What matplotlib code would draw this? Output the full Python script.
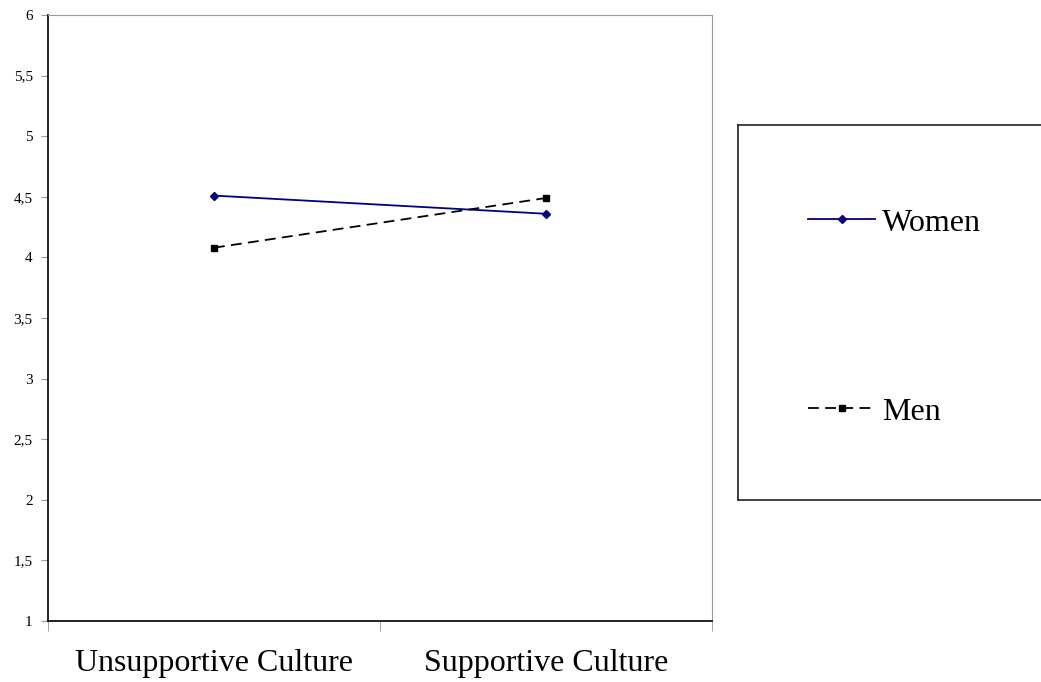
import os
import matplotlib.pyplot as plt
from matplotlib import font_manager
from matplotlib.ticker import FixedLocator

categories = ['Unsupportive Culture', 'Supportive Culture']
women = [4.51, 4.36]
men = [4.08, 4.49]
y_ticks = [1, 1.5, 2, 2.5, 3, 3.5, 4, 4.5, 5, 5.5, 6]
y_labels = ['1', '1,5', '2', '2,5', '3', '3,5', '4', '4,5', '5', '5,5', '6']

# upright Times-like face: pick the Regular file by its name
serif_file = None
for f in font_manager.fontManager.ttflist:
    base = os.path.basename(f.fname).lower()
    if 'liberationserif-regular' in base:
        serif_file = f.fname
        break


def fp(size):
    if serif_file:
        return font_manager.FontProperties(fname=serif_file, size=size)
    return font_manager.FontProperties(family='serif', size=size)


fig = plt.figure(figsize=(10.41, 6.82), dpi=100)
ax = fig.add_axes([48/1041, 1-621/682, (712-48)/1041, (621-15)/682])

x = range(len(categories))
ax.plot(x, women, color='#000080', lw=1.3, marker='D', ms=4, label='Women')
ax.plot(x, men, color='black', lw=1.3, ls=(0, (6, 3.5)), marker='s', ms=5, label='Men')

ax.set_xlim(-0.5, 1.5)
ax.set_ylim(1, 6)
ax.set_yticks(y_ticks)
ax.set_yticklabels(y_labels, fontproperties=fp(11))
ax.set_xticks(list(x))
ax.set_xticklabels(categories, fontproperties=fp(23))
ax.tick_params(axis='x', length=0, pad=20)
ax.xaxis.set_minor_locator(FixedLocator([-0.5, 0.5, 1.5]))
ax.tick_params(axis='x', which='minor', length=7, color='#999999', direction='out')
ax.tick_params(axis='y', length=5, color='#999999', pad=6)
ax.spines['top'].set_color('#999999')
ax.spines['right'].set_color('#999999')
for s in ['left', 'bottom']:
    ax.spines[s].set_color('black')
    ax.spines[s].set_linewidth(1.2)

# legend box
lax = fig.add_axes([738/1041, 1-500/682, 0.32, (500-125)/682])
lax.set_xticks([])
lax.set_yticks([])
for s in lax.spines.values():
    s.set_linewidth(1.2)
    s.set_color('#222222')
h, l = ax.get_legend_handles_labels()
lax.legend(h, l, loc='center left', bbox_to_anchor=(0.125, 0.487), frameon=False,
           prop=fp(23), handlelength=2.1, handletextpad=0.2, labelspacing=5.0)

fig.savefig('out.png', dpi=100)
